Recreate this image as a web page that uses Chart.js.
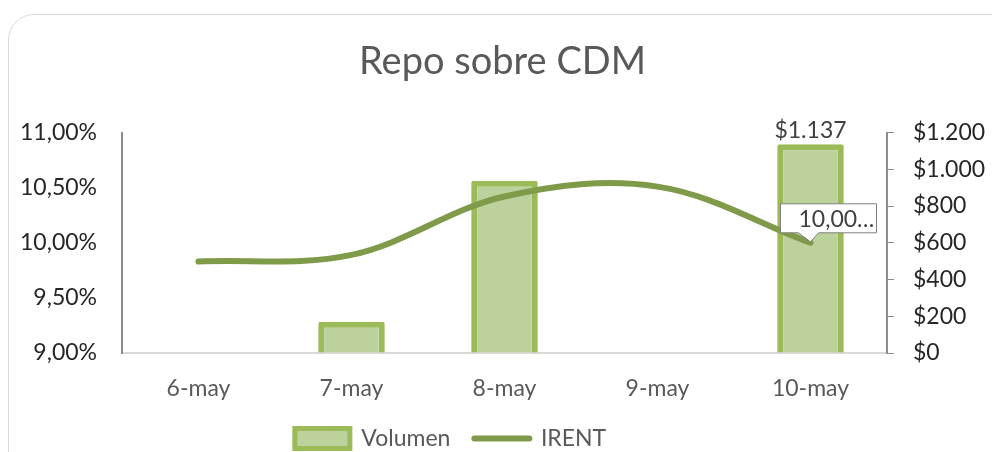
<!DOCTYPE html>
<html lang="es">
<head>
    <meta charset="UTF-8">
    <title>Repo sobre CDM</title>
    <style>
        html, body { margin: 0; padding: 0; background: #fff; overflow: hidden; }
        .frame {
            position: absolute; left: 8px; top: 14px;
            width: 1010px; height: 500px;
            border: 1px solid #d9d9d9; border-radius: 26px;
        }
        #chart { position: absolute; left: 0; top: 0; }
    </style>
</head>
<body>
    <div class="frame"></div>
    <canvas id="chart" width="1000" height="460"></canvas>

    <script src="https://cdn.jsdelivr.net/npm/chart.js"></script>
    <script>
        // data
        const fechas = ['6-may', '7-may', '8-may', '9-may', '10-may'];
        const volumen = [0, 170, 938, 0, 1137];
        const irent = [9.83, 9.89, 10.42, 10.51, 10.00];
        const labelIndex = 4; // only the last point carries data labels

        const gris = '#595959';
        const fontName = 'Lato';

        const pct = v => v.toFixed(2).replace('.', ',') + '%';
        const dinero = v => '$' + Math.round(v).toString().replace(/\B(?=(\d{3})+(?!\d))/g, '.');

        // labels drawn on top of the marks
        const dataLabels = {
            id: 'dataLabels',
            afterDatasetsDraw(chart) {
                const ctx = chart.ctx;
                ctx.save();
                ctx.font = '23px ' + fontName;
                ctx.fillStyle = '#404040';

                // bar label
                const bar = chart.getDatasetMeta(0).data[labelIndex];
                ctx.textAlign = 'center';
                ctx.textBaseline = 'middle';
                ctx.fillText(dinero(volumen[labelIndex]), bar.x, bar.y - 14);

                // line callout
                const pt = chart.getDatasetMeta(1).data[labelIndex];
                const left = pt.x - 30, right = pt.x + 66;
                const top = pt.y - 39, bottom = pt.y - 10;
                ctx.beginPath();
                ctx.moveTo(left, top);
                ctx.lineTo(right, top);
                ctx.lineTo(right, bottom);
                ctx.lineTo(pt.x + 8, bottom);
                ctx.lineTo(pt.x, pt.y - 1);
                ctx.lineTo(pt.x - 12, bottom);
                ctx.lineTo(left, bottom);
                ctx.closePath();
                ctx.fillStyle = '#fff';
                ctx.fill();
                ctx.strokeStyle = '#7f7f7f';
                ctx.lineWidth = 1;
                ctx.stroke();
                ctx.fillStyle = '#404040';
                ctx.textAlign = 'left';
                ctx.fillText(pct(irent[labelIndex]).slice(0, 5) + '\u2026', left + 18, (top + bottom) / 2 + 1);
                ctx.restore();
            }
        };

        // Excel puts the legend a bit left of centre
        const legendShift = {
            id: 'legendShift',
            afterLayout(chart) {
                chart.legend.left -= 52;
                chart.legend.right -= 52;
            }
        };

        const ctx = document.getElementById('chart').getContext('2d');
        new Chart(ctx, {
            data: {
                labels: fechas,
                datasets: [{
                    type: 'bar',
                    label: 'Volumen',
                    data: volumen,
                    yAxisID: 'y1',
                    backgroundColor: '#bcd19b',
                    borderColor: '#9bbb59',
                    borderWidth: 6,
                    borderRadius: 2,
                    barPercentage: 0.435,
                    categoryPercentage: 1,
                    order: 2
                }, {
                    type: 'line',
                    label: 'IRENT',
                    data: irent,
                    yAxisID: 'y',
                    borderColor: '#7f9a48',
                    backgroundColor: '#7f9a48',
                    borderWidth: 6,
                    borderCapStyle: 'round',
                    pointRadius: 0,
                    tension: 0.35,
                    order: 1
                }]
            },
            options: {
                responsive: false,
                animation: false,
                devicePixelRatio: 1,
                layout: { padding: { left: 18, right: 13, top: 0, bottom: 0 } },
                plugins: {
                    title: {
                        display: true,
                        text: 'Repo sobre CDM',
                        color: gris,
                        font: { family: fontName, size: 38, weight: 'normal' },
                        padding: { top: 39, bottom: 48 }
                    },
                    legend: {
                        position: 'bottom',
                        labels: {
                            color: gris,
                            font: { family: fontName, size: 23 },
                            usePointStyle: true,
                            pointStyleWidth: 55,
                            boxHeight: 20,
                            padding: 24,
                            sort: (a, b) => a.datasetIndex - b.datasetIndex,
                            generateLabels(chart) {
                                const items = Chart.defaults.plugins.legend.labels.generateLabels(chart);
                                items.forEach(it => {
                                    if (it.datasetIndex === 0) {
                                        it.pointStyle = 'rect';
                                        it.fillStyle = '#bcd19b';
                                        it.strokeStyle = '#9bbb59';
                                        it.lineWidth = 5;
                                    } else {
                                        it.pointStyle = 'line';
                                        it.strokeStyle = '#7f9a48';
                                        it.lineWidth = 6;
                                        it.lineCap = 'round';
                                    }
                                });
                                return items;
                            }
                        }
                    },
                    tooltip: { enabled: false }
                },
                scales: {
                    x: {
                        offset: true,
                        grid: { display: false, drawTicks: false },
                        border: { color: '#d9d9d9', width: 2 },
                        ticks: { color: gris, font: { family: fontName, size: 23 }, padding: 22 },
                        afterFit(scale) { scale.height = 50; }
                    },
                    y: {
                        position: 'left',
                        min: 9,
                        max: 11,
                        grid: { display: false, drawTicks: false },
                        border: { color: '#8c8c8c', width: 2 },
                        ticks: {
                            stepSize: 0.5,
                            color: '#262626',
                            font: { family: fontName, size: 23 },
                            padding: 25,
                            callback: v => pct(v)
                        },
                        afterFit(scale) { scale.width = 104; }
                    },
                    y1: {
                        position: 'right',
                        min: 0,
                        max: 1200,
                        grid: { drawOnChartArea: false, tickLength: 7, color: '#8c8c8c' },
                        border: { color: '#8c8c8c', width: 2 },
                        ticks: {
                            stepSize: 200,
                            color: '#262626',
                            font: { family: fontName, size: 23 },
                            padding: 19,
                            callback: v => dinero(v)
                        },
                        afterFit(scale) { scale.width = 100; }
                    }
                }
            },
            plugins: [dataLabels, legendShift]
        });
    </script>
</body>
</html>
